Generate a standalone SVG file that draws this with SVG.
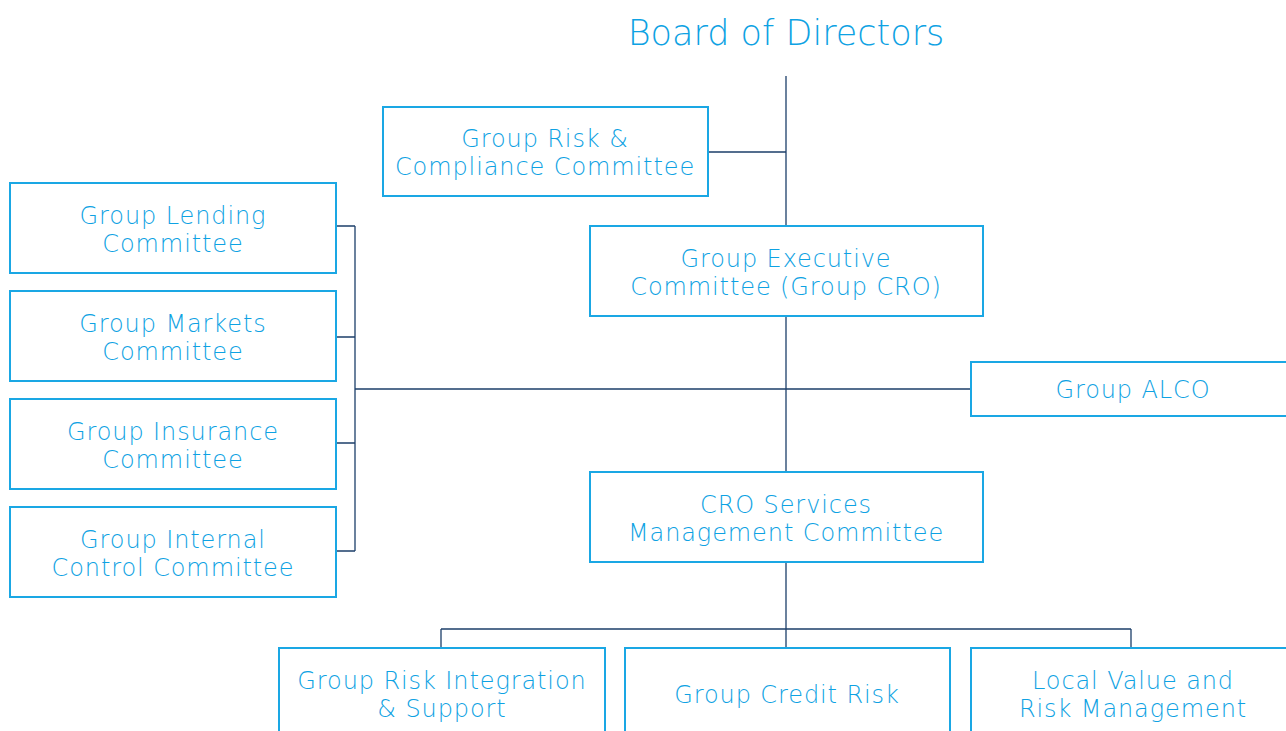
<svg xmlns="http://www.w3.org/2000/svg" width="1286" height="731" viewBox="0 0 1286 731">
<style>
.box{fill:#ffffff;stroke:#1aa7e4;stroke-width:2}
.t{font-family:"DejaVu Sans","Liberation Sans",sans-serif;font-size:24px;letter-spacing:0.9px;font-weight:300;fill:#0ea2e3;text-anchor:middle}
.title{font-family:"DejaVu Sans","Liberation Sans",sans-serif;font-size:35px;font-weight:300;fill:#0ea2e3;text-anchor:middle}
.c{fill:none;stroke:#1d3f6a;stroke-width:1.3}
</style>
<rect width="1286" height="731" fill="#ffffff"/>
<g id="connectors">
<path class="c" d="M786 76V226M708 152H786M786 316V472M355 389H971M786 562V648M441 629H1131M441 629V648M1131 629V648"/>
<path class="c" d="M355 226V551M336 226H355M336 337H355M336 443H355M336 551H355"/>
</g>
<g id="board"><text class="title" x="786" y="45">Board of Directors</text></g>
<g id="risk-compliance"><rect class="box" x="383" y="107" width="325" height="89"/><text class="t" x="545" y="146.5">Group Risk &amp;</text><text class="t" x="545" y="174.5">Compliance Committee</text></g>
<g id="executive"><rect class="box" x="590" y="226" width="393" height="90"/><text class="t" x="786" y="266.5">Group Executive</text><text class="t" x="786" y="294.5">Committee (Group CRO)</text></g>
<g id="lending"><rect class="box" x="10" y="183" width="326" height="90"/><text class="t" x="173" y="223.5">Group Lending</text><text class="t" x="173" y="251.5">Committee</text></g>
<g id="markets"><rect class="box" x="10" y="291" width="326" height="90"/><text class="t" x="173" y="331.5">Group Markets</text><text class="t" x="173" y="359.5">Committee</text></g>
<g id="insurance"><rect class="box" x="10" y="399" width="326" height="90"/><text class="t" x="173" y="439.5">Group Insurance</text><text class="t" x="173" y="467.5">Committee</text></g>
<g id="internal-control"><rect class="box" x="10" y="507" width="326" height="90"/><text class="t" x="173" y="547.5">Group Internal</text><text class="t" x="173" y="575.5">Control Committee</text></g>
<g id="alco"><rect class="box" x="971" y="362" width="325" height="54"/><text class="t" x="1133" y="398">Group ALCO</text></g>
<g id="cro-services"><rect class="box" x="590" y="472" width="393" height="90"/><text class="t" x="786" y="512.5">CRO Services</text><text class="t" x="786" y="540.5">Management Committee</text></g>
<g id="risk-integration"><rect class="box" x="279" y="648" width="326" height="90"/><text class="t" x="442" y="688.5">Group Risk Integration</text><text class="t" x="442" y="716.5">&amp; Support</text></g>
<g id="credit-risk"><rect class="box" x="625" y="648" width="325" height="90"/><text class="t" x="787" y="702.5">Group Credit Risk</text></g>
<g id="local-value"><rect class="box" x="971" y="648" width="325" height="90"/><text class="t" x="1133" y="688.5">Local Value and</text><text class="t" x="1133" y="716.5">Risk Management</text></g>
</svg>
